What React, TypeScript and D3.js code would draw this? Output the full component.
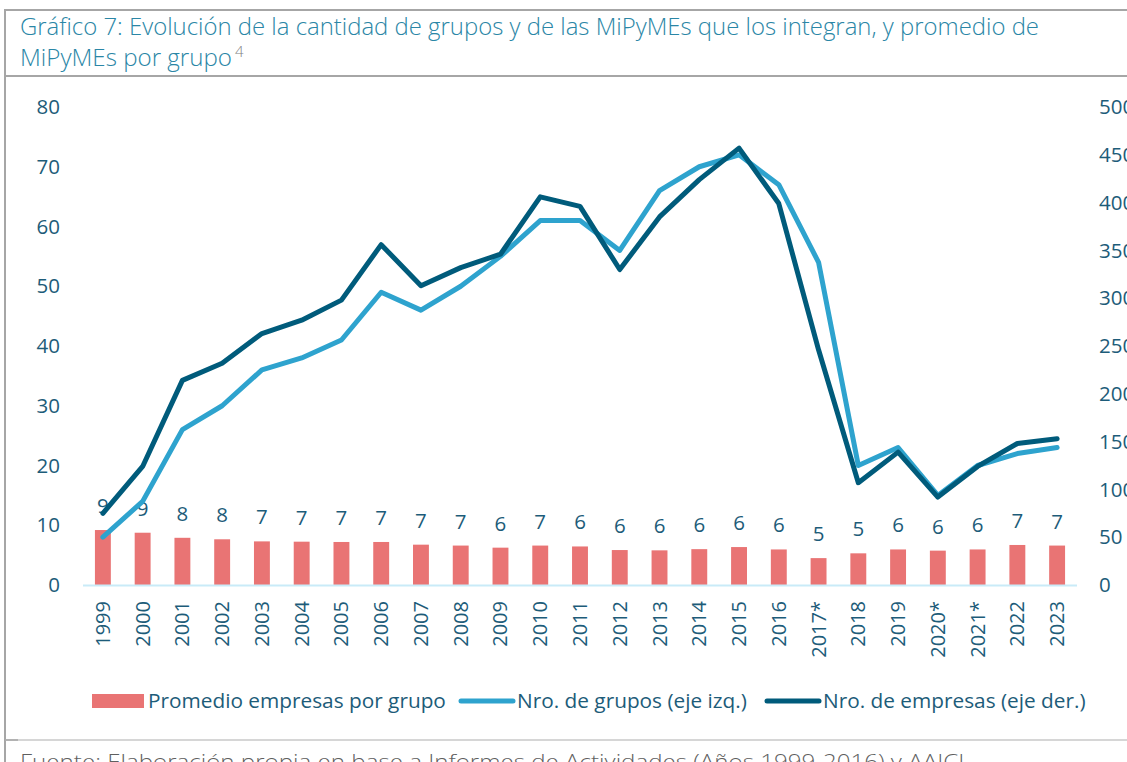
import React from "react";
import * as d3 from "d3";

const years = ["1999","2000","2001","2002","2003","2004","2005","2006","2007","2008","2009","2010","2011","2012","2013","2014","2015","2016","2017*","2018","2019","2020*","2021*","2022","2023"];
const promedio = [9.2,8.75,7.9,7.65,7.3,7.25,7.2,7.2,6.75,6.6,6.25,6.6,6.45,5.85,5.8,6.0,6.35,5.95,4.5,5.3,5.95,5.75,5.95,6.7,6.6];
const grupos = [8,14,26,30,36,38,41,49,46,50,55,61,61,56,66,70,72,67,54,20,23,15,20,22,23];
const empresas = [75,124,214,232,263,277,298,356,313,332,346,406,396,330,385,424,457,399,246,107,139,92,124,148,153];
const leftTicks = [0,10,20,30,40,50,60,70,80];
const rightTicks = [0,50,100,150,200,250,300,350,400,450,500];

const TEAL = "#1D5C79";
const LIGHT = "#2EA3CE";
const DARK = "#005B7B";
const BAR = "#E97474";
const FONT = "'Open Sans', sans-serif";

export default function App() {
  const x = d3.scaleBand<string>().domain(years).range([83, 1077]).paddingInner(0.6).paddingOuter(0.3);
  const yL = d3.scaleLinear().domain([0, 80]).range([585, 107]);
  const yR = d3.scaleLinear().domain([0, 500]).range([585, 107]);
  const cx = (y: string) => (x(y) as number) + x.bandwidth() / 2;
  const lineL = d3.line<number>().x((_, i) => cx(years[i])).y((d) => yL(d));
  const lineR = d3.line<number>().x((_, i) => cx(years[i])).y((d) => yR(d));

  return (
    <svg width={1127} height={762} style={{ position: "absolute", left: 0, top: 0, background: "#fff" }} fontFamily={FONT}>
      {/* frame */}
      <line x1={5} x2={1127} y1={10} y2={10} stroke="#a6a6a6" strokeWidth={2} />
      <line x1={5} x2={1127} y1={76} y2={76} stroke="#a6a6a6" strokeWidth={2} />
      <line x1={5} x2={5} y1={9} y2={762} stroke="#a6a6a6" strokeWidth={2} />
      <line x1={5} x2={1127} y1={740} y2={740} stroke="#c8c8c8" strokeWidth={1.5} />
      <line x1={5} x2={18} y1={740} y2={740} stroke="#a6a6a6" strokeWidth={1.5} />

      {/* title */}
      <text x={20} y={35} fontSize={24} fontWeight={300} fill="#2A86A6" textLength={1019} lengthAdjust="spacingAndGlyphs">
        Gráfico 7: Evolución de la cantidad de grupos y de las MiPyMEs que los integran, y promedio de
      </text>
      <text x={20} y={66} fontSize={24} fontWeight={300} fill="#2A86A6" textLength={212} lengthAdjust="spacingAndGlyphs">
        MiPyMEs por grupo
      </text>
      <text x={235} y={57} fontSize={15} fontWeight={300} fill="#7f7f7f">4</text>

      {/* left axis ticks */}
      {leftTicks.map((t) => (
        <text key={"l" + t} x={60} y={yL(t)} dy="0.35em" textAnchor="end" fontSize={20.5} fill={TEAL}>{t}</text>
      ))}
      {/* right axis ticks */}
      {rightTicks.map((t) => (
        <text key={"r" + t} x={1099} y={yR(t)} dy="0.35em" textAnchor="start" fontSize={20.5} fill={TEAL}>{t}</text>
      ))}

      {/* bars */}
      {years.map((y, i) => (
        <rect key={"b" + y} x={x(y)} y={yL(promedio[i])} width={x.bandwidth()} height={yL(0) - yL(promedio[i])} fill={BAR} />
      ))}
      {/* axis line */}
      <line x1={83} x2={1077} y1={585.5} y2={585.5} stroke="#C9EBF8" strokeWidth={2} />

      {/* bar labels */}
      {years.map((y, i) => (
        <text key={"v" + y} x={cx(y)} y={yL(promedio[i]) - 17} textAnchor="middle" fontSize={20.5} fill={TEAL}>
          {Math.round(promedio[i])}
        </text>
      ))}

      {/* lines */}
      <path d={lineL(grupos) as string} fill="none" stroke={LIGHT} strokeWidth={5} strokeLinejoin="round" strokeLinecap="round" />
      <path d={lineR(empresas) as string} fill="none" stroke={DARK} strokeWidth={5} strokeLinejoin="round" strokeLinecap="round" />

      {/* x labels */}
      {years.map((y) => (
        <text key={"x" + y} transform={`translate(${cx(y)},601) rotate(-90)`} dy="0.35em" textAnchor="end" fontSize={20} fill={TEAL}>
          {y}
        </text>
      ))}

      {/* legend */}
      <rect x={92} y={694} width={52} height={14} fill={BAR} />
      <text x={148} y={708} fontSize={20.8} fill={TEAL}>Promedio empresas por grupo</text>
      <line x1={461} x2={513} y1={701} y2={701} stroke={LIGHT} strokeWidth={5} strokeLinecap="round" />
      <text x={517} y={708} fontSize={20.8} fill={TEAL}>Nro. de grupos (eje izq.)</text>
      <line x1={767} x2={819} y1={701} y2={701} stroke={DARK} strokeWidth={5} strokeLinecap="round" />
      <text x={823} y={708} fontSize={20.8} fill={TEAL}>Nro. de empresas (eje der.)</text>

      {/* source */}
      <text x={20} y={769} fontSize={20} fontWeight={300} fill="#5f5f5f" textLength={950} lengthAdjust="spacingAndGlyphs">
        Fuente: Elaboración propia en base a Informes de Actividades (Años 1999-2016) y AAICI.
      </text>
    </svg>
  );
}
